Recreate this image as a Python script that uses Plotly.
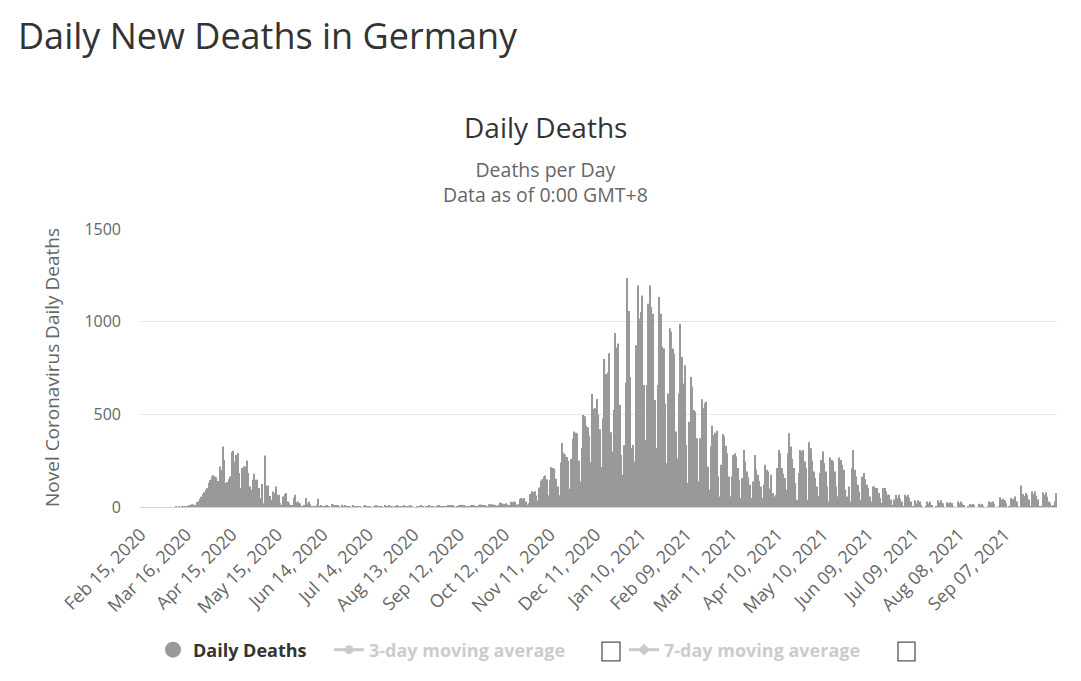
"""Daily new deaths in Germany, bar chart in the Worldometer style"""

import pandas as pd
import plotly.graph_objects as go

# daily deaths (Feb 15, 2020 onwards)
deaths_wave1 = [
    0, 0, 0, 0, 0, 0, 0, 0, 0, 0, 0, 0, 0, 0, 0, 0, 0, 0, 0, 0, 0, 0, 0,
    2, 0, 1, 0, 1, 2, 2, 4, 3, 7, 8, 16, 12, 6,
    27, 30, 45, 55, 70, 80, 93,
    102, 129, 147, 165, 172, 165, 160,
    140, 219, 200, 326, 254, 129, 135,
    150, 165, 296, 303, 245, 280, 290,
    183, 102, 210, 219, 219, 251, 183,
    111, 93, 147, 179, 147, 147, 102,
    48, 124, 20, 278, 116, 116, 60,
    39, 84, 75, 111, 66, 66, 20,
    10, 57, 70, 75, 30, 20, 10,
    8, 48, 66, 25, 30, 20, 5,
    3, 8, 48, 20, 30, 15, 3,
    2, 5, 8, 45, 5, 8, 3,
    1, 10, 6, 2, 0, 16, 14,
]
deaths_summer = [
    8, 9, 6, 1, 0, 12, 5,
    6, 3, 4, 1, 0, 7, 5,
    4, 2, 3, 1, 0, 3, 6,
    5, 2, 3, 0, 0, 4, 6,
    3, 5, 2, 1, 0, 9, 4,
    5, 7, 3, 1, 0, 5, 6,
    4, 3, 5, 1, 9, 4, 5,
    2, 6, 3, 0, 0, 4, 5,
    3, 6, 2, 0, 1, 3, 8,
    4, 5, 2, 0, 1, 6, 7,
    5, 4, 3, 1, 2, 9, 10,
    8, 6, 4, 0, 1, 11, 9,
    12, 7, 5, 1, 2,
]
deaths_autumn = [
    5, 8, 11, 9, 3, 2, 10, 13, 12, 9, 7, 3, 2, 15, 16, 12, 14, 8, 4, 6, 24, 22, 18, 16,
    20, 14, 9, 28, 25, 30, 27,
    12, 15, 42, 48, 45, 48, 30,
    14, 20, 70, 85, 80, 85, 62,
    35, 105, 140, 150, 165, 170, 150,
    63,
    144, 215, 210, 206, 153, 110, 63,
    240, 345, 290, 280, 270, 250, 99,
    260, 368, 408, 400, 395, 250, 138,
    320, 496, 490, 440, 430, 386, 242,
    610, 530, 533, 583, 500, 420, 215,
    478, 799, 718, 727, 829, 404, 300,
    523, 939, 860, 882, 550, 280, 174,
]
deaths_winter = [
    335, 672, 1235, 1057, 702, 317, 335,
    245, 873, 1195, 1016, 1052, 1141, 658,
    362, 658, 1097, 1195, 1079, 1043, 577,
    317, 658, 1133, 1043, 864, 855, 559,
    236, 613, 964, 946, 855, 828, 407,
    263, 613, 989, 810, 667, 765, 335,
    129, 460, 702, 650, 523, 514, 371,
    138, 371, 582, 536, 560, 568, 219,
    93, 326, 439, 389, 400, 412, 165,
    57, 228, 394, 380, 330, 290, 165,
    57, 165, 281, 290, 272, 210, 147,
    48, 156, 308, 245, 192, 160, 120,
    48, 138, 281, 201, 174, 140, 111,
    48, 120, 228, 201, 192, 100, 174,
    75, 57,
]
deaths_spring = [
    66, 210, 308, 290, 210, 180, 156,
    93, 290, 398, 326, 260, 210, 129,
    39, 183, 308, 299, 308, 245, 210,
    39, 349, 317, 250, 192, 156, 111,
    60, 183, 254, 299, 237, 192, 111,
    30, 267, 254, 245, 192, 111, 57,
    267, 254, 228, 201, 93, 57, 111,
    30, 210, 308, 201, 165, 120, 84,
    39, 165, 183, 150, 120, 102, 57,
    30, 111, 111, 102, 102, 75, 48,
    21, 102, 102, 84, 66, 66, 40,
    8, 40, 66, 50, 66, 45, 30,
    4, 66, 57, 66, 50, 30, 2,
    1,
]
deaths_late = [
    36, 20, 36, 30, 10, 0, 0,
    3, 30, 20, 30, 10, 0, 0,
    2, 36, 25, 36, 20, 0, 0,
    25, 20, 25, 22, 5, 0, 0,
    30, 20, 30, 18, 10, 0, 0,
    3, 16, 12, 16, 10, 0, 0,
    18, 12, 16, 5, 0, 0, 2,
    30, 25, 30, 18, 0, 0, 4,
    52, 40, 45, 36, 20, 0, 2,
    48, 40, 45, 57, 30, 3, 0,
    116, 70, 60, 75, 65, 40, 5,
    84, 70, 84, 60, 40, 4, 3,
    80, 65, 80, 55, 30, 20, 2,
    10, 30, 75,
]

deaths = (
    deaths_wave1 + deaths_summer + deaths_autumn
    + deaths_winter + deaths_spring + deaths_late
)

dates = pd.date_range("2020-02-15", periods=len(deaths), freq="D")
day_labels = [d.strftime("%b %d, %Y") for d in dates]
# labels every 30 days, last one shown is Sep 07, 2021
tick_labels = day_labels[0:600:30]

df = pd.DataFrame({"date": day_labels, "deaths": deaths})
df["ma3"] = df["deaths"].rolling(3).mean().round(1)
df["ma7"] = df["deaths"].rolling(7).mean().round(1)

# plot area in pixels: x 140..1057, y 229..509
L, R, T, B = 140, 1057, 229, 509


def px(x):
    return (x - L) / (R - L)


def py(y):
    return (B - y) / (B - T)


fig = go.Figure()
fig.add_trace(
    go.Bar(
        x=df["date"],
        y=df["deaths"],
        name="Daily Deaths",
        marker=dict(color="#999999", line=dict(width=0)),
        showlegend=False,
        legendgroup="daily",
    )
)
# legend entry for the bars (round symbol like the original)
fig.add_trace(
    go.Scatter(
        x=[None],
        y=[None],
        mode="markers",
        name="Daily Deaths",
        marker=dict(color="#999999", size=16),
        legendgroup="daily",
        legend="legend",
    )
)
fig.add_trace(
    go.Scatter(
        x=df["date"],
        y=df["ma3"],
        mode="lines+markers",
        name="3-day moving average",
        line=dict(color="#999999", width=3),
        marker=dict(size=9),
        visible="legendonly",
        legend="legend2",
    )
)
fig.add_trace(
    go.Scatter(
        x=df["date"],
        y=df["ma7"],
        mode="lines+markers",
        name="7-day moving average",
        line=dict(color="#999999", width=3),
        marker=dict(size=9, symbol="diamond"),
        visible="legendonly",
        legend="legend3",
    )
)

legend_font = dict(family="Open Sans", size=18, weight="bold")
legend_y = py(653)

fig.update_layout(
    width=1081,
    height=681,
    autosize=False,
    margin=dict(l=L, r=1081 - R, t=T, b=681 - B),
    paper_bgcolor="white",
    plot_bgcolor="white",
    font=dict(family="Open Sans", color="#666666"),
    bargap=0.25,
    title=dict(
        text="Daily New Deaths in Germany",
        x=18 / 1081,
        xanchor="left",
        xref="container",
        y=1 - 36 / 681,
        yref="container",
        yanchor="middle",
        font=dict(family="Open Sans", size=36, color="#333333"),
    ),
    xaxis=dict(
        type="category",
        tickvals=tick_labels,
        ticktext=tick_labels,
        tickangle=-45,
        tickfont=dict(size=18, color="#666666"),
        ticklabelstandoff=9,
        showgrid=False,
        showline=True,
        linecolor="#ccd6eb",
        linewidth=1,
        range=[-0.5, len(deaths) - 0.5],
    ),
    yaxis=dict(
        range=[0, 1500],
        dtick=500,
        gridcolor="#e6e6e6",
        zeroline=False,
        tickfont=dict(size=16, color="#666666"),
        ticklabelstandoff=18,
    ),
    legend=dict(
        orientation="h", x=px(153), y=legend_y, xanchor="left", yanchor="middle",
        font=dict(legend_font, color="#333333"), bgcolor="rgba(0,0,0,0)",
    ),
    legend2=dict(
        orientation="h", x=px(329), y=legend_y, xanchor="left", yanchor="middle",
        font=dict(legend_font, color="#999999"), bgcolor="rgba(0,0,0,0)",
    ),
    legend3=dict(
        orientation="h", x=px(624), y=legend_y, xanchor="left", yanchor="middle",
        font=dict(legend_font, color="#999999"), bgcolor="rgba(0,0,0,0)",
    ),
)

fig.add_annotation(
    text="Daily Deaths", x=px(545), y=py(126), xref="paper", yref="paper",
    xanchor="center", yanchor="middle", showarrow=False,
    font=dict(size=28, color="#333333"),
)
fig.add_annotation(
    text="Deaths per Day<br>Data as of 0:00 GMT+8", x=px(545), y=py(181.5),
    xref="paper", yref="paper", xanchor="center", yanchor="middle",
    showarrow=False, font=dict(size=19.5, color="#666666"),
)
fig.add_annotation(
    text="Novel Coronavirus Daily Deaths", x=px(52), y=py(369),
    xref="paper", yref="paper", xanchor="center", yanchor="middle",
    showarrow=False, textangle=-90, font=dict(size=19, color="#666666"),
)

# checkboxes next to the moving-average legend items
for x0, x1 in [(602, 620), (898, 915)]:
    fig.add_shape(
        type="rect", xref="paper", yref="paper",
        x0=px(x0), x1=px(x1), y0=py(664), y1=py(645),
        line=dict(color="#555555", width=1.3), fillcolor="white",
    )

fig.write_html(
    "out.html",
    config=dict(displayModeBar=False),
    post_script="document.body.style.margin='0';",
)
